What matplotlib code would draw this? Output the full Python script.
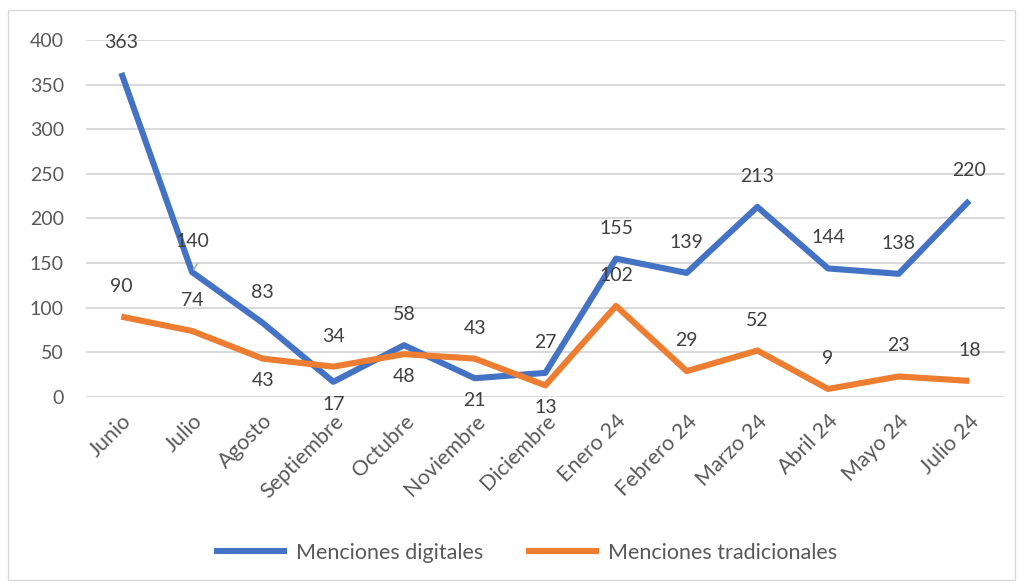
import matplotlib
matplotlib.use("Agg")
import matplotlib.pyplot as plt
from matplotlib.patches import Rectangle

months = ["Junio", "Julio", "Agosto", "Septiembre", "Octubre", "Noviembre",
          "Diciembre", "Enero 24", "Febrero 24", "Marzo 24", "Abril 24",
          "Mayo 24", "Julio 24"]
digitales = [363, 140, 83, 17, 58, 21, 27, 155, 139, 213, 144, 138, 220]
tradicionales = [90, 74, 43, 34, 48, 43, 13, 102, 29, 52, 9, 23, 18]

# label placement: True = above the point, False = below
dig_above = [True, True, True, False, True, False, True, True, True, True, True, True, True]
tra_above = [True, True, False, True, False, True, False, True, True, True, True, True, True]

C_DIG = "#4472C4"
C_TRA = "#ED7D31"
GRID = "#D9D9D9"
TXT = "#404040"

plt.rcParams["font.family"] = ["Lato", "DejaVu Sans"]

fig = plt.figure(figsize=(10.2, 5.85), dpi=100)
ax = fig.add_axes([0.0843, 0.3214, 0.9007, 0.6103])

x = list(range(len(months)))
ax.plot(x, digitales, color=C_DIG, lw=4.4, solid_capstyle="butt",
        solid_joinstyle="round", label="Menciones digitales", zorder=3)
ax.plot(x, tradicionales, color=C_TRA, lw=4.4, solid_capstyle="butt",
        solid_joinstyle="round", label="Menciones tradicionales", zorder=3)

for vals, above in ((digitales, dig_above), (tradicionales, tra_above)):
    for i, (v, up) in enumerate(zip(vals, above)):
        dy = 22 if up else -16
        ax.annotate(str(v), (i, v), xytext=(0, dy), textcoords="offset points",
                    ha="center", va="center", fontsize=14, color=TXT,
                    zorder=4)

# small leader line for the Julio label
ax.annotate("", (1, 140), xytext=(1.1, 152), textcoords="data",
            arrowprops=dict(arrowstyle="-", color="#A6A6A6", lw=1))

ax.set_xlim(-0.5, len(months) - 0.5)
ax.set_ylim(0, 400)
ax.set_yticks(range(0, 401, 50))
ax.set_xticks(x)
ax.set_xticklabels(months, rotation=45, ha="right", rotation_mode="anchor")
ax.tick_params(axis="both", length=0, labelsize=14, labelcolor="#595959")
ax.tick_params(axis="x", labelsize=15.5, pad=10)
ax.tick_params(axis="y", pad=16)
ax.grid(axis="y", color=GRID, lw=1.4)
ax.set_axisbelow(True)
for s in ax.spines.values():
    s.set_visible(False)

fig.legend(loc="center", bbox_to_anchor=(0.515, 0.055), ncol=2, frameon=False,
           fontsize=15.5, handlelength=3.4, columnspacing=2.0, handletextpad=0.4,
           labelcolor="#595959")

fig.patches.append(Rectangle((8 / 1020, 5 / 585), 1007 / 1020, 570 / 585,
                             transform=fig.transFigure, fill=False,
                             edgecolor="#D9D9D9", lw=1))

fig.savefig("out.png", dpi=100)
